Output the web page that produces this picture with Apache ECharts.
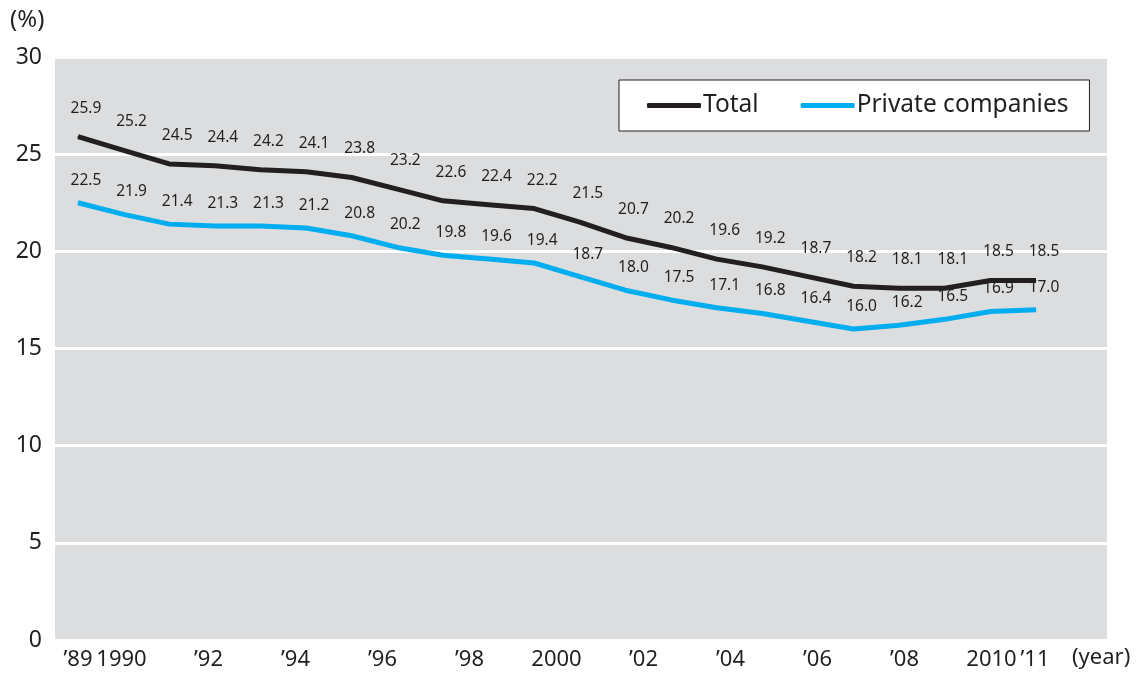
<!DOCTYPE html>
<html><head><meta charset="utf-8">
<script src="https://cdn.jsdelivr.net/npm/echarts@6/dist/echarts.min.js"></script>
<style>html,body{margin:0;padding:0;background:#fff}#c{width:1137px;height:673px}</style>
</head><body><div id="c"></div>
<script>
const tickYears = [1989, 1990, 1992, 1994, 1996, 1998, 2000, 2002, 2004, 2006, 2008, 2010, 2011];
const tickLabels = ["\u201989", "1990", "\u201992", "\u201994", "\u201996", "\u201998", "2000", "\u201902", "\u201904", "\u201906", "\u201908", "2010", "\u201911"];
const totalValues = [25.9, 25.2, 24.5, 24.4, 24.2, 24.1, 23.8, 23.2, 22.6, 22.4, 22.2, 21.5, 20.7, 20.2, 19.6, 19.2, 18.7, 18.2, 18.1, 18.1, 18.5, 18.5];
const privateValues = [22.5, 21.9, 21.4, 21.3, 21.3, 21.2, 20.8, 20.2, 19.8, 19.6, 19.4, 18.7, 18.0, 17.5, 17.1, 16.8, 16.4, 16.0, 16.2, 16.5, 16.9, 17.0];
const seriesNames = ["Total", "Private companies"];

const FONT = '"Noto Sans", sans-serif';
const TXT = '#231f20';
const chart = echarts.init(document.getElementById('c'), null, {renderer: 'canvas'});
const toPairs = arr => arr.map((v, i) => [i, v]);
const labelCfg = d => ({show: true, position: 'top', distance: d, offset: [8, 0], color: TXT, fontSize: 15.5, fontFamily: FONT, formatter: p => p.value[1].toFixed(1)});
chart.setOption({
  animation: false,
  textStyle: {fontFamily: FONT},
  grid: {left: 55, right: 30, top: 57, bottom: 33, show: true, backgroundColor: '#dcdddf', borderWidth: 0},
  legend: {
    left: 619, top: 80,
    backgroundColor: '#fff', borderColor: '#231f20', borderWidth: 1, padding: [13, 21, 13, 28],
    itemWidth: 54, itemHeight: 5, itemGap: 42, icon: 'roundRect',
    textStyle: {color: TXT, fontSize: 24.5, fontFamily: FONT, padding: [0, 0, 0, -3]},
    data: seriesNames
  },
  xAxis: [
    {type: 'value', min: 1988.471, max: 2012.655, position: 'bottom',
     axisLine: {show: false}, axisTick: {show: false}, splitLine: {show: false},
     axisLabel: {customValues: tickYears, color: TXT, fontSize: 22, fontFamily: FONT, margin: 9,
       formatter: v => tickLabels[tickYears.indexOf(Math.round(v))] || ''}},
    {type: 'value', min: -0.504, max: 22.556, show: false}
  ],
  yAxis: {type: 'value', min: 0, max: 30, interval: 5,
    axisLine: {show: false}, axisTick: {show: false},
    splitLine: {lineStyle: {color: '#fff', width: 3}},
    axisLabel: {color: TXT, fontSize: 23, fontFamily: FONT, margin: 13}},
  graphic: [
    {type: 'text', left: 10, top: 8, style: {text: '(%)', fill: TXT, font: '24px ' + FONT}},
    {type: 'text', left: 1072, top: 647, style: {text: '(year)', fill: TXT, font: '22px ' + FONT}}
  ],
  series: [
    {name: seriesNames[0], type: 'line', xAxisIndex: 1, data: toPairs(totalValues), symbol: 'circle', symbolSize: 1, showSymbol: true,
     lineStyle: {color: '#231f20', width: 5}, itemStyle: {color: '#231f20'}, label: labelCfg(20)},
    {name: seriesNames[1], type: 'line', xAxisIndex: 1, data: toPairs(privateValues), symbol: 'circle', symbolSize: 1, showSymbol: true,
     lineStyle: {color: '#00aeef', width: 5}, itemStyle: {color: '#00aeef'}, label: labelCfg(14)}
  ]
});
</script></body></html>
